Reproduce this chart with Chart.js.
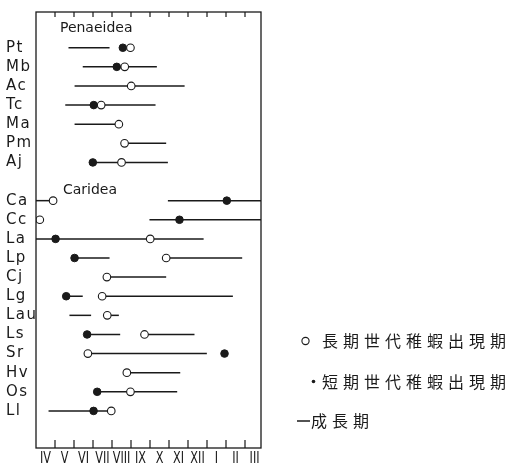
<!DOCTYPE html>
<html>
<head>
<meta charset="utf-8">
<script src="https://cdn.jsdelivr.net/npm/chart.js@4/dist/chart.umd.min.js"></script>
<style>
  html, body { margin: 0; padding: 0; background: #fff; }
  #wrap { width: 515px; height: 466px; position: relative; }
</style>
</head>
<body>
<div id="wrap"><canvas id="c"></canvas></div>
<script>
// Month axis runs April → March; a value m means m months after 1 April.
const monthLabels = ['IV', 'V', 'VI', 'VII', 'VIII', 'IX', 'X', 'XI', 'XII', 'I', 'II', 'III'];

// Species codes and their row numbers (rows 0 and 8 hold the group headings).
const species = ['Pt', 'Mb', 'Ac', 'Tc', 'Ma', 'Pm', 'Aj',
                 'Ca', 'Cc', 'La', 'Lp', 'Cj', 'Lg', 'Lau', 'Ls', 'Sr', 'Hv', 'Os', 'Ll'];
const speciesRow = [1, 2, 3, 4, 5, 6, 7,
                    9, 10, 11, 12, 13, 14, 15, 16, 17, 18, 19, 20];

const groupNames = ['Penaeidea', 'Caridea'];
const groupRow = [0, 8.44];

// 成長期: growth periods [start, end] per species
const growthPeriods = [
  [[1.71, 3.87]],                 // Pt
  [[2.46, 6.36]],                 // Mb
  [[2.03, 7.82]],                 // Ac
  [[1.54, 6.29]],                 // Tc
  [[2.03, 4.36]],                 // Ma
  [[4.66, 6.85]],                 // Pm
  [[2.99, 6.94]],                 // Aj
  [[0, 0.9], [6.94, 11.84]],      // Ca
  [[5.97, 11.84]],                // Cc
  [[0, 8.82]],                    // La
  [[2.03, 3.87], [6.85, 10.85]],  // Lp
  [[3.73, 6.85]],                 // Cj
  [[1.59, 2.46], [3.48, 10.36]],  // Lg
  [[1.76, 2.9], [3.75, 4.36]],    // Lau
  [[2.69, 4.43], [5.71, 8.34]],   // Ls
  [[2.73, 8.99]],                 // Sr
  [[4.78, 7.59]],                 // Hv
  [[3.22, 7.43]],                 // Os
  [[0.66, 3.96]]                  // Ll
];

// 長期世代稚蝦出現期: appearance of long-lived generation juveniles
const longGenJuveniles = [
  [4.97], [4.67], [5.01], [3.43], [4.36], [4.66], [4.5],
  [0.9], [0.2], [6.01], [6.85], [3.73], [3.48], [3.75], [5.71], [2.73], [4.78], [4.97], [3.96]
];

// 短期世代稚蝦出現期: appearance of short-lived generation juveniles
const shortGenJuveniles = [
  [4.57], [4.25], [], [3.04], [], [], [2.99],
  [10.04], [7.55], [1.03], [2.03], [], [1.59], [], [2.69], [9.92], [], [3.22], [3.03]
];

const INK = '#1a1a1a';

const datasets = [];
growthPeriods.forEach((segs, i) => {
  segs.forEach(([a, b]) => {
    datasets.push({
      data: [{ x: a, y: speciesRow[i] }, { x: b, y: speciesRow[i] }],
      showLine: true,
      borderColor: INK,
      borderWidth: 1.5,
      pointRadius: 0,
      order: 3
    });
  });
});
datasets.push({
  data: shortGenJuveniles.flatMap((xs, i) => xs.map(x => ({ x, y: speciesRow[i] }))),
  pointRadius: 3.8,
  pointBackgroundColor: INK,
  pointBorderColor: INK,
  pointBorderWidth: 1,
  order: 2
});
datasets.push({
  data: longGenJuveniles.flatMap((xs, i) => xs.map(x => ({ x, y: speciesRow[i] }))),
  pointRadius: 3.8,
  pointBackgroundColor: '#fff',
  pointBorderColor: INK,
  pointBorderWidth: 1.1,
  order: 1
});

// Frame, inward month ticks, month names and group headings
const framePlugin = {
  id: 'frame',
  afterDraw(chart) {
    const { ctx, chartArea: a, scales: { x, y } } = chart;
    ctx.save();
    if ('letterSpacing' in ctx) ctx.letterSpacing = '0px';
    ctx.strokeStyle = INK;
    ctx.fillStyle = INK;
    ctx.lineWidth = 1.3;
    ctx.strokeRect(a.left, a.top, a.right - a.left, a.bottom - a.top);

    for (let m = 1; m < monthLabels.length; m++) {
      const px = Math.round(x.getPixelForValue(m));
      ctx.fillRect(px - 0.6, a.bottom - 8, 1.2, 8);
      ctx.fillRect(px - 0.6, a.top, 1.2, 5);
    }

    // month names, narrow letterforms
    ctx.textBaseline = 'middle';
    ctx.textAlign = 'center';
    ctx.font = '15px "DejaVu Sans", sans-serif';
    monthLabels.forEach((lab, i) => {
      ctx.save();
      ctx.translate(x.getPixelForValue(i + 0.5), a.bottom + 11);
      ctx.scale(0.75, 1);
      ctx.fillText(lab, 0, 0);
      ctx.restore();
    });

    ctx.font = '14px "DejaVu Sans", sans-serif';
    ctx.textAlign = 'left';
    const groupX = [1.26, 1.42];
    groupNames.forEach((name, i) => {
      ctx.fillText(name, x.getPixelForValue(groupX[i]), y.getPixelForValue(groupRow[i]));
    });
    ctx.restore();
  }
};

// Key to the symbols, set to the right of the plot
const keyPlugin = {
  id: 'key',
  afterDraw(chart) {
    const ctx = chart.ctx;
    ctx.save();
    ctx.fillStyle = INK;
    ctx.strokeStyle = INK;
    ctx.font = '16px "Noto Sans CJK JP", sans-serif';
    ctx.textBaseline = 'middle';
    ctx.textAlign = 'left';
    if ('letterSpacing' in ctx) ctx.letterSpacing = '5px';

    // open circle
    ctx.lineWidth = 1.1;
    ctx.beginPath();
    ctx.arc(305.5, 341, 3.6, 0, Math.PI * 2);
    ctx.stroke();
    ctx.fillText('長期世代稚蝦出現期', 322, 341);

    // small dot
    ctx.beginPath();
    ctx.arc(313.5, 381.5, 1.8, 0, Math.PI * 2);
    ctx.fill();
    ctx.fillText('短期世代稚蝦出現期', 322, 381.5);

    // rule
    ctx.lineWidth = 1.5;
    ctx.beginPath();
    ctx.moveTo(297, 421); ctx.lineTo(310, 421);
    ctx.stroke();
    ctx.fillText('成長期', 311, 421);
    ctx.restore();
  }
};

// Species codes are set with a little letter spacing
const spacingPlugin = {
  id: 'spacing',
  beforeDraw(chart) { if ('letterSpacing' in chart.ctx) chart.ctx.letterSpacing = '1.5px'; },
  beforeDatasetsDraw(chart) { if ('letterSpacing' in chart.ctx) chart.ctx.letterSpacing = '0px'; }
};

new Chart(document.getElementById('c'), {
  type: 'scatter',
  data: { datasets },
  options: {
    responsive: true,
    maintainAspectRatio: false,
    animation: false,
    layout: { padding: { left: 6, right: 254, top: 12, bottom: 18 } },
    plugins: { legend: { display: false }, tooltip: { enabled: false } },
    scales: {
      x: {
        type: 'linear',
        position: 'bottom',
        min: 0,
        max: 11.84,
        display: false
      },
      y: {
        type: 'linear',
        reverse: true,
        min: -0.87,
        max: 21.94,
        grid: { display: false },
        border: { display: false },
        afterBuildTicks: s => { s.ticks = speciesRow.map(v => ({ value: v })); },
        afterFit: s => { s.width = 30; },
        ticks: {
          autoSkip: false,
          crossAlign: 'far',
          padding: 0,
          color: INK,
          font: { family: '"DejaVu Sans", sans-serif', size: 15 },
          callback: (v, i) => species[i]
        }
      }
    }
  },
  plugins: [spacingPlugin, framePlugin, keyPlugin]
});
</script>
</body>
</html>
